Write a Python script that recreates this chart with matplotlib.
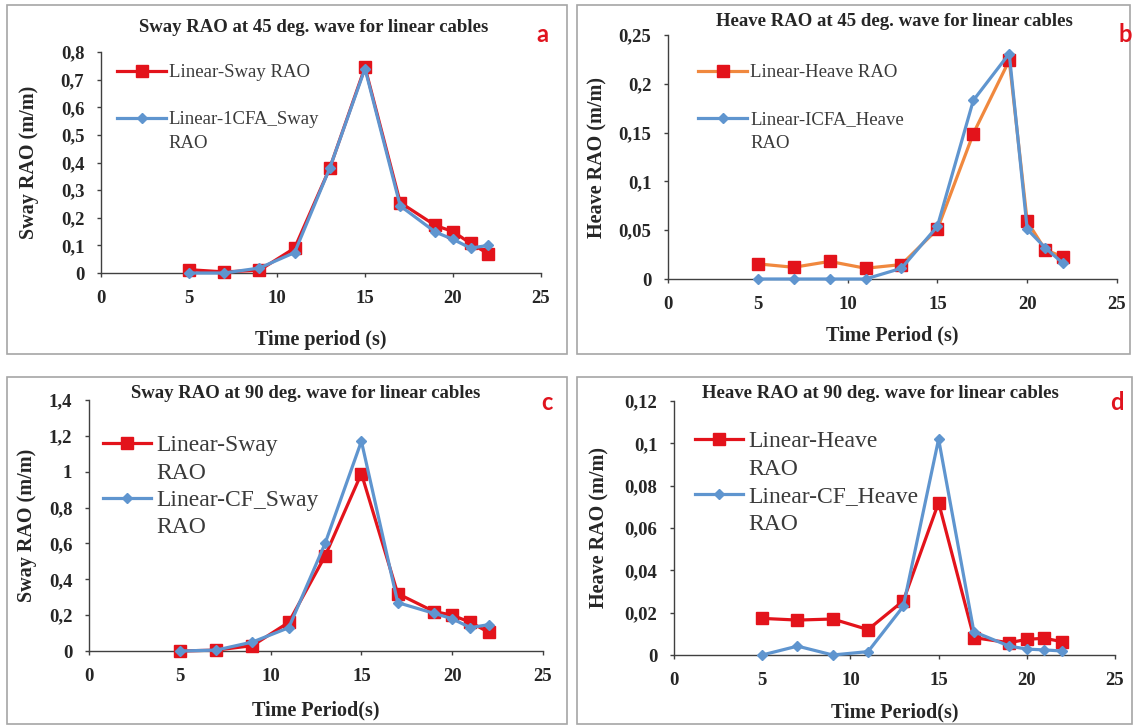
import matplotlib
matplotlib.use("Agg")
import matplotlib.pyplot as plt
from matplotlib.lines import Line2D
from matplotlib.patches import Rectangle
from matplotlib.ticker import MultipleLocator, FuncFormatter

# data
periodo = [5, 7, 9, 11, 13, 15, 17, 19, 20, 21, 22]

sway45_lin = [0.012, 0.004, 0.01, 0.09, 0.38, 0.745, 0.255, 0.172, 0.15, 0.107, 0.07]
sway45_cfa = [0.0, 0.0, 0.018, 0.074, 0.38, 0.74, 0.243, 0.148, 0.122, 0.09, 0.10]

heave45_lin = [0.0155, 0.012, 0.018, 0.011, 0.0148, 0.051, 0.149, 0.224, 0.059, 0.030, 0.0225]
heave45_cfa = [0.0, 0.0, 0.0, 0.0, 0.011, 0.054, 0.183, 0.231, 0.051, 0.032, 0.016]

sway90_lin = [0.0, 0.005, 0.03, 0.16, 0.53, 0.99, 0.32, 0.22, 0.20, 0.16, 0.105]
sway90_cf = [0.0, 0.005, 0.05, 0.13, 0.60, 1.17, 0.27, 0.21, 0.18, 0.13, 0.147]

heave90_lin = [0.0173, 0.0165, 0.017, 0.012, 0.0256, 0.072, 0.0082, 0.0058, 0.0074, 0.0079, 0.0063]
heave90_cf = [0.0, 0.0042, 0.0, 0.0016, 0.023, 0.102, 0.011, 0.0042, 0.0028, 0.0024, 0.0019]

W, H = 1134, 725
ROJO = '#e3131b'
AZUL = '#5f95cf'
NARANJA = '#f0883e'
serif = ['Liberation Serif', 'DejaVu Serif']

fig = plt.figure(figsize=(W / 100, H / 100), dpi=100)


def caja(x0, y0, x1, y1):
    return [x0 / W, 1 - y1 / H, (x1 - x0) / W, (y1 - y0) / H]


def coma(v, p):
    return ('%g' % v).replace('.', ',')


# marcos grises de cada panel
for (x0, y0, x1, y1) in [(7, 5, 567, 354), (577, 5, 1130, 354),
                         (7, 377, 567, 724), (577, 377, 1132, 724)]:
    fig.patches.append(Rectangle((x0 / W, 1 - y1 / H), (x1 - x0) / W, (y1 - y0) / H,
                                 transform=fig.transFigure, fill=False,
                                 edgecolor='#a6a6a6', lw=1.2))

paneles = [
    dict(pos=(101, 52, 541, 273), y1=sway45_lin, y2=sway45_cfa, ymax=0.8, paso=0.1,
         l1='Linear-Sway RAO', l2='Linear-1CFA_Sway', c1=ROJO,
         titulo='Sway RAO at 45 deg. wave for linear cables', tpos=(314, 27),
         letra='a', lpos=(542, 35), xl='Time period (s)', yl='Sway RAO (m/m)',
         etiq=(29, 340), fs_leg=13.5, legpos=(0.02, 0.978)),
    dict(pos=(668, 35, 1117, 279), y1=heave45_lin, y2=heave45_cfa, ymax=0.25, paso=0.05,
         l1='Linear-Heave RAO', l2='Linear-ICFA_Heave', c1=NARANJA,
         titulo='Heave RAO at 45 deg. wave for linear cables', tpos=(894, 22),
         letra='b', lpos=(1125, 35), xl='Time Period (s)', yl='Heave RAO (m/m)',
         etiq=(597, 335), fs_leg=13.5, legpos=(0.051, 0.911)),
    dict(pos=(89, 400, 543, 651), y1=sway90_lin, y2=sway90_cf, ymax=1.4, paso=0.2,
         l1='Linear-Sway', l2='Linear-CF_Sway', c1=ROJO,
         titulo='Sway RAO at 90 deg. wave for linear cables', tpos=(306, 393),
         letra='c', lpos=(547, 402), xl='Time Period(s)', yl='Sway RAO (m/m)',
         etiq=(27, 710), fs_leg=17, legpos=(0.011, 0.90)),
    dict(pos=(674, 401, 1115, 655), y1=heave90_lin, y2=heave90_cf, ymax=0.12, paso=0.02,
         l1='Linear-Heave', l2='Linear-CF_Heave', c1=ROJO,
         titulo='Heave RAO at 90 deg. wave for linear cables', tpos=(880, 393),
         letra='d', lpos=(1117, 402), xl='Time Period(s)', yl='Heave RAO (m/m)',
         etiq=(599, 712), fs_leg=17, legpos=(0.027, 0.92)),
]

for p in paneles:
    x0, y0, x1, y1 = p['pos']
    ax = fig.add_axes(caja(x0, y0, x1, y1))
    ax.plot(periodo, p['y1'], color=p['c1'], lw=2.3, marker='s', ms=8,
            mfc=ROJO, mec=ROJO, clip_on=False, zorder=3)
    ax.plot(periodo, p['y2'], color=AZUL, lw=2.3, marker='D', ms=5,
            mfc=AZUL, mec=AZUL, clip_on=False, zorder=4)
    ax.set_xlim(0, 25)
    ax.set_ylim(0, p['ymax'])
    ax.xaxis.set_major_locator(MultipleLocator(5))
    ax.yaxis.set_major_locator(MultipleLocator(p['paso']))
    ax.yaxis.set_major_formatter(FuncFormatter(coma))
    for s in ['top', 'right']:
        ax.spines[s].set_visible(False)
    for s in ['left', 'bottom']:
        ax.spines[s].set_color('#404040')
        ax.spines[s].set_linewidth(1.0)
    ax.tick_params(direction='out', length=3, width=1, color='#404040', pad=9)
    for lab in ax.get_xticklabels() + ax.get_yticklabels():
        lab.set_fontfamily(serif)
        lab.set_fontweight('bold')
        lab.set_fontsize(13.5)
        lab.set_color('#262626')
    ax.set_xlabel(p['xl'], fontfamily=serif, fontweight='bold', fontsize=14.5,
                  color='#262626', va='center')
    ax.set_ylabel(p['yl'], fontfamily=serif, fontweight='bold', fontsize=14.5,
                  color='#262626', va='center')
    # posicion de las etiquetas de los ejes (pixeles del original)
    ax.yaxis.set_label_coords((p['etiq'][0] - x0) / (x1 - x0), 0.5)
    ax.xaxis.set_label_coords(0.5, (y1 - p['etiq'][1]) / (y1 - y0))
    ax.patch.set_alpha(0)

    h1 = Line2D([], [], color=p['c1'], lw=2.3, marker='s', ms=8, mfc=ROJO, mec=ROJO)
    h2 = Line2D([], [], color=AZUL, lw=2.3, marker='D', ms=5, mfc=AZUL, mec=AZUL)
    vacio = Line2D([], [], lw=0, alpha=0)
    handles = [h1, vacio, h2, vacio]
    if p['fs_leg'] < 15:
        labels = [p['l1'], ' ', p['l2'], 'RAO']
        spacing, hl, htp = 0.34, 2.6, 0.15
    else:
        labels = [p['l1'], 'RAO', p['l2'], 'RAO']
        spacing, hl, htp = 0.25, 2.0, 0.25
    leg = ax.legend(handles, labels, loc='upper left', bbox_to_anchor=p['legpos'],
                    frameon=False, handlelength=hl, handletextpad=htp,
                    labelspacing=spacing, borderaxespad=0,
                    prop=dict(family=serif, size=p['fs_leg']))
    for t in leg.get_texts():
        t.set_color('#3a3a3a')

    fig.text(p['tpos'][0] / W, 1 - p['tpos'][1] / H, p['titulo'], ha='center', va='center',
             fontfamily=serif, fontweight='bold', fontsize=13.5, color='#262626')
    fig.text(p['lpos'][0] / W, 1 - p['lpos'][1] / H, p['letra'], ha='center', va='center',
             fontfamily=['Lato', 'DejaVu Sans'], fontweight='bold', fontsize=17, color='#e0141e')

fig.savefig('out.png', dpi=100)
